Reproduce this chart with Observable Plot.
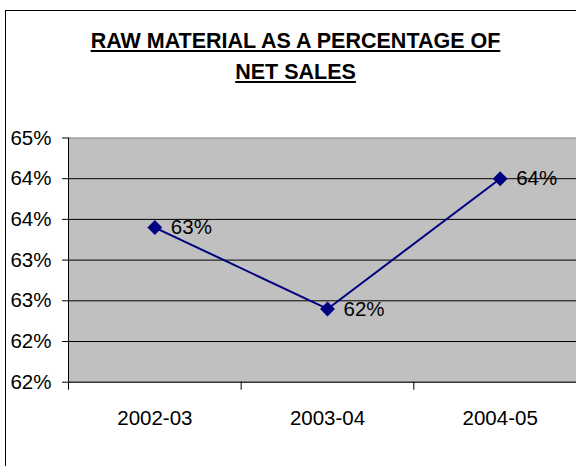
<!DOCTYPE html>
<html><head><meta charset="utf-8">
<script src="https://cdn.jsdelivr.net/npm/d3@7"></script>
<script src="https://cdn.jsdelivr.net/npm/@observablehq/plot@0.6"></script>
<style>
body{margin:0;background:#fff;}
#wrap{position:relative;width:576px;height:466px;overflow:hidden;font-family:"Liberation Sans",Arial,sans-serif;}
#frame{position:absolute;left:5px;top:10px;width:640px;height:520px;border:1.5px solid #000;box-sizing:border-box;}
#title{position:absolute;left:0;width:591px;top:26px;text-align:center;font-weight:bold;font-size:21.5px;line-height:31px;text-decoration:underline;color:#000;}
#chart{position:absolute;left:0;top:0;width:586px;}
#chart svg{max-width:none !important;}
</style></head><body>
<div id="wrap"><div id="frame"></div><div id="chart"></div><div id="title">RAW MATERIAL AS A PERCENTAGE OF<br>NET SALES</div></div>
<script>
const categories = ["2002-03","2003-04","2004-05"];
const values = [0.634, 0.624, 0.640];
const valueLabels = ["63%","62%","64%"];
const yTicks = [0.615,0.62,0.625,0.63,0.635,0.64,0.645];
const yTickLabels = ["62%","62%","63%","63%","64%","64%","65%"];

const data = categories.map((c,i)=>({cat:c, pos:i+0.5, value:values[i], label:valueLabels[i]}));
const boundaries = d3.range(categories.length+1);
const centers = data.map(d=>d.pos);

const plot = Plot.plot({
  width:586, height:466, marginLeft:68, marginRight:0, marginTop:137.5, marginBottom:84.3,
  style:{fontFamily:"'Liberation Sans', Arial, sans-serif", fontSize:"20px", color:"#000", background:"transparent", overflow:"visible", maxWidth:"none"},
  x:{type:"linear", domain:[0,categories.length]},
  y:{domain:[yTicks[0], yTicks[yTicks.length-1]]},
  marks:[
    Plot.frame({fill:"#c0c0c0", stroke:"#808080"}),
    Plot.gridY(yTicks.slice(1,-1), {stroke:"#000", strokeOpacity:1}),
    Plot.ruleX([0], {stroke:"#000"}),
    Plot.ruleY([yTicks[0]], {stroke:"#000"}),
    Plot.axisY({ticks:yTicks, tickFormat:d=>yTickLabels[yTicks.indexOf(d)], tickSize:6, tickPadding:11, stroke:"#000", fill:"#000", fontSize:20.5, label:null}),
    Plot.axisX({ticks:boundaries, tickFormat:()=>"", tickSize:8, stroke:"#000", label:null}),
    Plot.axisX({ticks:centers, tickFormat:d=>categories[Math.floor(d)], tickSize:0, tickPadding:28, fill:"#000", fontSize:20.5, label:null}),
    Plot.line(data, {x:"pos", y:"value", stroke:"#000080", strokeWidth:2}),
    Plot.dot(data, {x:"pos", y:"value", symbol:"diamond2", r:6.7, fill:"#000080", stroke:"none"}),
    Plot.text(data, {x:"pos", y:"value", text:"label", textAnchor:"start", dx:16, fontSize:20.5, fill:"#000"})
  ]
});
document.getElementById("chart").appendChild(plot);
</script>
</body></html>
